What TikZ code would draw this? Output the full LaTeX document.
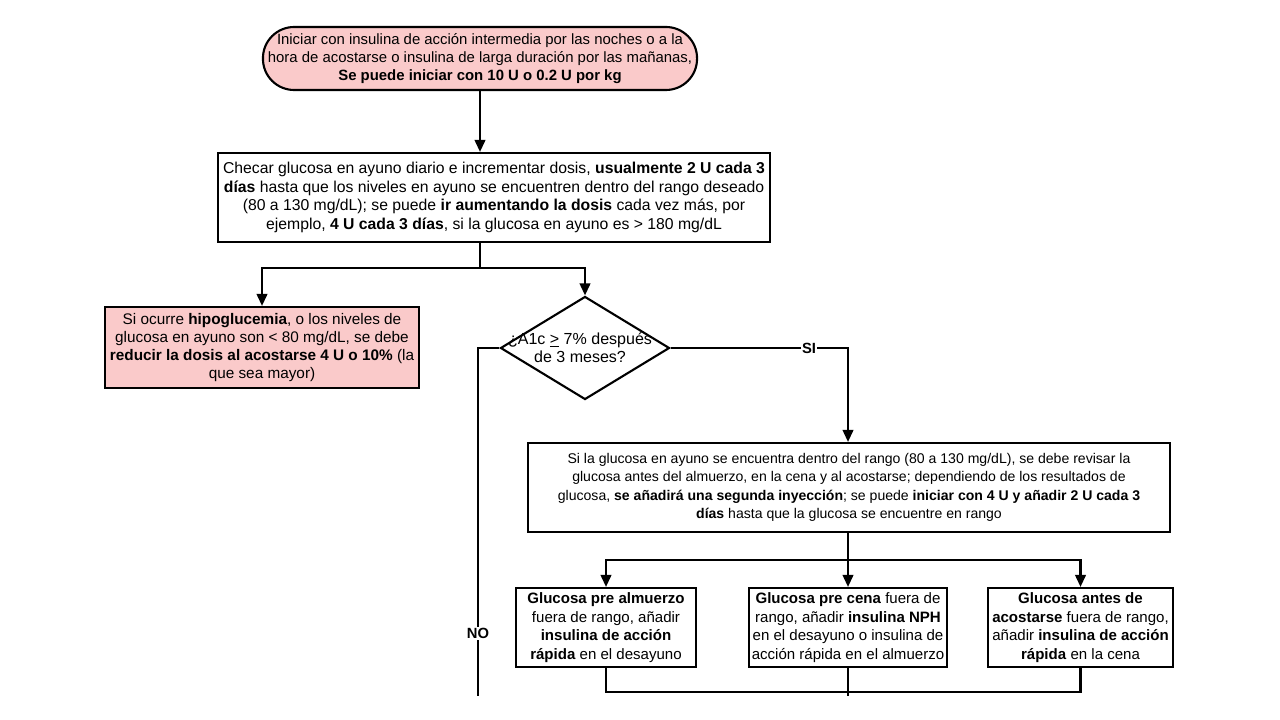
\documentclass[tikz,border=0pt]{standalone}
\usepackage{fontspec}
\setmainfont{Liberation Sans}
\usepackage{tikz}
\usetikzlibrary{positioning,shapes.geometric,arrows.meta}
\definecolor{rosa}{RGB}{250,202,202}
\tikzset{
  caja/.style={draw,line width=1.5pt,align=center,inner sep=2pt,font=\fontsize{10}{13}\selectfont},
  inicio/.style={caja,rounded corners=0.78cm,fill=rosa},
  decision/.style={diamond,draw,line width=1.5pt,align=center,inner sep=0pt},
  linea/.style={line width=1.5pt},
  flecha/.style={linea,-{Triangle[length=8.5pt,width=7.5pt]}},
  etiqueta/.style={fill=white,inner sep=1pt,font=\fontsize{10.5}{12}\selectfont\bfseries}
}

\begin{document}
\begin{tikzpicture}[x=0.025cm,y=-0.025cm]
  \useasboundingbox (0,0) rectangle (1280,720);

  \node at(480,58.5)[inicio,minimum width=10.85cm,minimum height=1.575cm,font=\fontsize{10.6}{13}\selectfont](inicio){Iniciar con insulina de acción intermedia por las noches o a la\\hora de acostarse o insulina de larga duración por las mañanas,\\\textbf{Se puede iniciar con 10 U o 0.2 U por kg}};

  \node at(494,197.5)[caja,minimum width=13.8cm,minimum height=2.225cm,font=\fontsize{11.2}{13.1}\selectfont](checar){Checar glucosa en ayuno diario e incrementar dosis, \textbf{usualmente 2 U cada 3}\\\textbf{días} hasta que los niveles en ayuno se encuentren dentro del rango deseado\\(80 a 130 mg/dL); se puede \textbf{ir aumentando la dosis} cada vez más, por\\ejemplo, \textbf{4 U cada 3 días}, si la glucosa en ayuno es > 180 mg/dL};

  \node at(262,347.5)[caja,fill=rosa,minimum width=7.85cm,minimum height=2.025cm,font=\fontsize{10.9}{13}\selectfont](hipo){Si ocurre \textbf{hipoglucemia}, o los niveles de\\glucosa en ayuno son < 80 mg/dL, se debe\\\textbf{reducir la dosis al acostarse 4 U o 10\%} (la\\que sea mayor)};

  \node at(585,348)[decision,minimum width=4.225cm,minimum height=2.575cm](aunoc){};
  \node at(580,348)[font=\fontsize{11.4}{13}\selectfont,align=center](aunoctxt){¿A1c \underline{>} 7\% después\\de 3 meses?};

  \node at(849,487.5)[caja,minimum width=16.05cm,minimum height=2.225cm](segunda){Si la glucosa en ayuno se encuentra dentro del rango (80 a 130 mg/dL), se debe revisar la\\glucosa antes del almuerzo, en la cena y al acostarse; dependiendo de los resultados de\\glucosa, \textbf{se añadirá una segunda inyección}; se puede \textbf{iniciar con 4 U y añadir 2 U cada 3}\\\textbf{días} hasta que la glucosa se encuentre en rango};

  \node at(606,627.5)[caja,minimum width=4.5cm,minimum height=1.975cm,font=\fontsize{10.7}{13.2}\selectfont](almuerzo){\textbf{Glucosa pre almuerzo}\\fuera de rango, añadir\\\textbf{insulina de acción}\\\textbf{rápida} en el desayuno};
  \node at(848,627.5)[caja,minimum width=4.925cm,minimum height=1.975cm,font=\fontsize{10.7}{13.2}\selectfont](cena){\textbf{Glucosa pre cena} fuera de\\rango, añadir \textbf{insulina NPH}\\en el desayuno o insulina de\\acción rápida en el almuerzo};
  \node at(1080.5,627.5)[caja,minimum width=4.625cm,minimum height=1.975cm,font=\fontsize{10.7}{13.2}\selectfont](acostarse){\textbf{Glucosa antes de}\\\textbf{acostarse} fuera de rango,\\añadir \textbf{insulina de acción}\\\textbf{rápida} en la cena};

  \coordinate (rama1) at(480,268);
  \coordinate (rama2) at(848,560);
  \coordinate (union) at(848,692);
  \coordinate (finno) at(478,696);
  \coordinate (finsi) at(848,696);

  \draw [flecha](inicio.south) -- (inicio.south |- checar.north);
  \draw [linea](rama1 |- checar.south) -- (rama1);
  \draw [flecha](rama1) -| (hipo.north);
  \draw [flecha](rama1) -| (aunoc.north);

  \draw [linea](aunoc.west) -| node[etiqueta,pos=0.91]{NO} (finno);
  \draw [flecha](aunoc.east) -| node[etiqueta,pos=0.39]{SI} (segunda.north -| rama2);

  \draw [linea](segunda.south -| rama2) -- (rama2);
  \draw [flecha](rama2) -| (almuerzo.north);
  \draw [flecha](rama2) -- (cena.north);
  \draw [flecha](rama2) -| (acostarse.north);

  \draw [linea](almuerzo.south) |- (union) -| (acostarse.south);
  \draw [linea](cena.south) -- (finsi);
\end{tikzpicture}
\end{document}
